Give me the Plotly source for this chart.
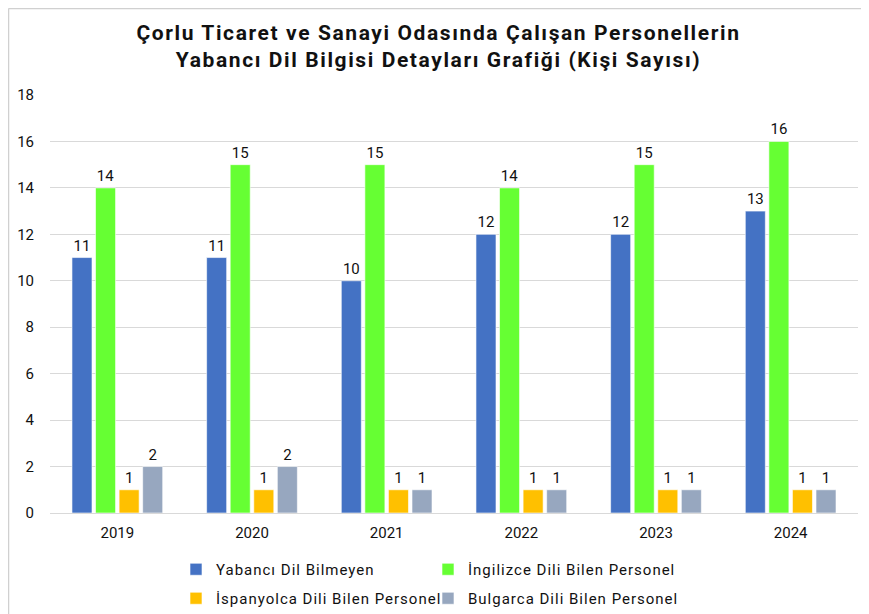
import plotly.graph_objects as go

years = ["2019", "2020", "2021", "2022", "2023", "2024"]
yabanci = [11, 11, 10, 12, 12, 13]
ingilizce = [14, 15, 15, 14, 15, 16]
ispanyolca = [1, 1, 1, 1, 1, 1]
bulgarca = [2, 2, 1, 1, 1, 1]

series_names = ["Yabancı Dil Bilmeyen", "İngilizce Dili Bilen Personel",
                "İspanyolca Dili Bilen Personel", "Bulgarca Dili Bilen Personel"]
series_values = [yabanci, ingilizce, ispanyolca, bulgarca]
series_colors = ["#4472C4", "#66FF33", "#FFC000", "#97A7BF"]
series_legend = ["legend", "legend", "legend2", "legend2"]

FONT = "Roboto"
LS = "letter-spacing:1px"

fig = go.Figure()
for name, vals, col, lg in zip(series_names, series_values, series_colors, series_legend):
    fig.add_trace(go.Bar(
        x=years, y=vals, name=f'<span style="{LS}">{name}</span>',
        marker=dict(color=col, line=dict(color="rgba(255,255,255,0.6)", width=1)),
        text=[str(v) for v in vals], textposition="outside",
        textfont=dict(family=FONT, size=15, color="#111"),
        cliponaxis=False, legend=lg,
    ))

W, H = 861, 606
L, R, T, B = 42, 11, 87, 101
PH = H - T - B
PW = W - L - R

legend_common = dict(
    orientation="h", xanchor="left", yanchor="top",
    entrywidth=207, entrywidthmode="pixels",
    font=dict(family=FONT, size=15, color="#111"),
    bgcolor="rgba(0,0,0,0)",
)
fig.update_layout(
    width=W, height=H,
    paper_bgcolor="white", plot_bgcolor="white",
    margin=dict(l=L, r=R, t=T, b=B, autoexpand=False),
    barmode="group", bargap=0.30, bargroupgap=0.15,
    title=dict(
        text='<span style="letter-spacing:1.6px"><b>Çorlu Ticaret ve Sanayi Odasında Çalışan Personellerin<br>Yabancı Dil Bilgisi Detayları Grafiği (Kişi Sayısı)</b></span>',
        x=0.5, xanchor="center", y=1 - 31.5 / H, yanchor="middle",
        font=dict(family=FONT, size=21, color="#111"),
    ),
    font=dict(family=FONT, color="#111"),
    xaxis=dict(
        showline=True, linecolor="#d9d9d9", linewidth=1,
        tickfont=dict(family=FONT, size=15, color="#111"),
        ticks="", ticklabelstandoff=6,
    ),
    yaxis=dict(
        range=[0, 18], dtick=2, showgrid=True, gridcolor="#d9d9d9", gridwidth=1,
        zeroline=False, tickfont=dict(family=FONT, size=15, color="#111"),
        ticks="", ticklabelstandoff=15,
    ),
    legend=dict(x=(168 - L) / PW, y=-(545 - (H - B)) / PH, **legend_common),
    legend2=dict(x=(168 - L) / PW, y=-(574 - (H - B)) / PH, **legend_common),
    showlegend=True,
)
fig.add_shape(type="line", xref="paper", yref="paper",
              x0=-(L - 0.5) / PW, x1=1 + R / PW, y0=1 + (T - 0.5) / PH, y1=1 + (T - 0.5) / PH,
              line=dict(color="#d0d0d0", width=1.5))
fig.add_shape(type="line", xref="paper", yref="paper",
              x0=-(L - 0.5) / PW, x1=-(L - 0.5) / PW, y0=-B / PH, y1=1 + (T - 0.5) / PH,
              line=dict(color="#d0d0d0", width=1.5))

fig.write_html("out.html")
